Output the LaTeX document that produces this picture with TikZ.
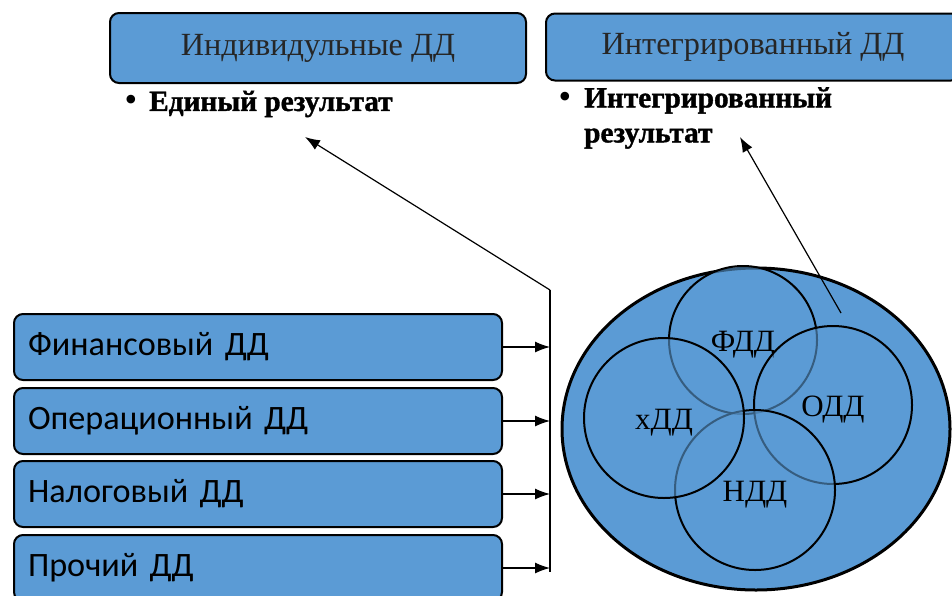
\documentclass[tikz,border=0pt]{standalone}
\usepackage{fontspec}
\setmainfont{Liberation Serif}
\newfontfamily\calib{Carlito}
\newfontfamily\heavy[BoldFont={Liberation Serif Bold}, BoldFeatures={FakeBold=1.3}]{Liberation Serif}
\usetikzlibrary{shapes.geometric,arrows.meta}
\definecolor{boxblue}{HTML}{5B9BD5}
\tikzset{
  topbox/.style={draw=black, line width=2pt, rounded corners=9pt, fill=boxblue,
    font=\fontsize{32.3}{38}\selectfont, text=black!85},
  leftbox/.style={draw=black, line width=2pt, rounded corners=9pt, fill=boxblue,
    minimum height=66pt, text width=460pt, inner xsep=14pt, align=left,
    font=\calib\fontsize{34.2}{40}\selectfont},
  bultext/.style={font=\heavy\bfseries\fontsize{29.3}{35}\selectfont, inner sep=0pt, align=left},
  bulmark/.style={font=\fontsize{36}{40}\selectfont, inner sep=0pt},
  arr/.style={line width=1.2pt, -{Latex[length=15pt,width=11pt]}},
  ring/.style={circle, draw=black, line width=2pt, fill=boxblue, fill opacity=0.6,
    text opacity=1, font=\fontsize{31}{36}\selectfont, text height=27pt, text depth=5pt},
}
\begin{document}
\begin{tikzpicture}[x=1pt,y=-1pt]
\clip (0,0) rectangle (952,595);
\fill[white] (0,0) rectangle (952,595);
% top boxes
\node[topbox, minimum width=416pt, minimum height=70pt] (ind) at (318,48) {Индивидульные ДД};
\node[topbox, minimum width=414pt, minimum height=67pt] (int) at (753,47) {Интегрированный ДД};
% bullets
\node[bulmark] (b1) at (131,103) {•};
\node[bultext, anchor=west] (t1) at (149,104) {Единый результат};
\node[bulmark] (b2) at (565,100) {•};
\node[bultext, anchor=north west] (t2) at (584,87) {Интегрированный\\результат};
% left boxes
\node[leftbox] (fin) at (258,347) {Финансовый ДД};
\node[leftbox] (ops) at (258,421) {Операционный ДД};
\node[leftbox] (tax) at (258,494) {Налоговый ДД};
\node[leftbox] (oth) at (258,568) {Прочий ДД};
% collector
\coordinate (vt) at (550,290);
\coordinate (vb) at (550,572);
\coordinate (tip1) at (305,137);
\draw[line width=1.2pt] (vt) -- (vb);
\foreach \n in {fin,ops,tax,oth} \draw[arr] (\n.east) -- (\n.east -| vt);
\draw[arr] (vt) -- (tip1);
% big ellipse
\node[ellipse, draw=black, line width=3pt, fill=boxblue, minimum width=388pt, minimum height=322pt] (big) at (756,429) {};
\node[ring, minimum size=148pt] (fdd) at (743,340) {ФДД};
\node[ring, minimum size=158pt] (odd) at (833,405) {ОДД};
\node[ring, minimum size=160pt] (ndd) at (755,490) {НДД};
\node[ring, minimum size=160pt] (xdd) at (664,418) {хДД};
% integrated arrow
\coordinate (es) at (841,313);
\coordinate (tip2) at (740,137);
\draw[arr] (es) -- (tip2);
\end{tikzpicture}
\end{document}
